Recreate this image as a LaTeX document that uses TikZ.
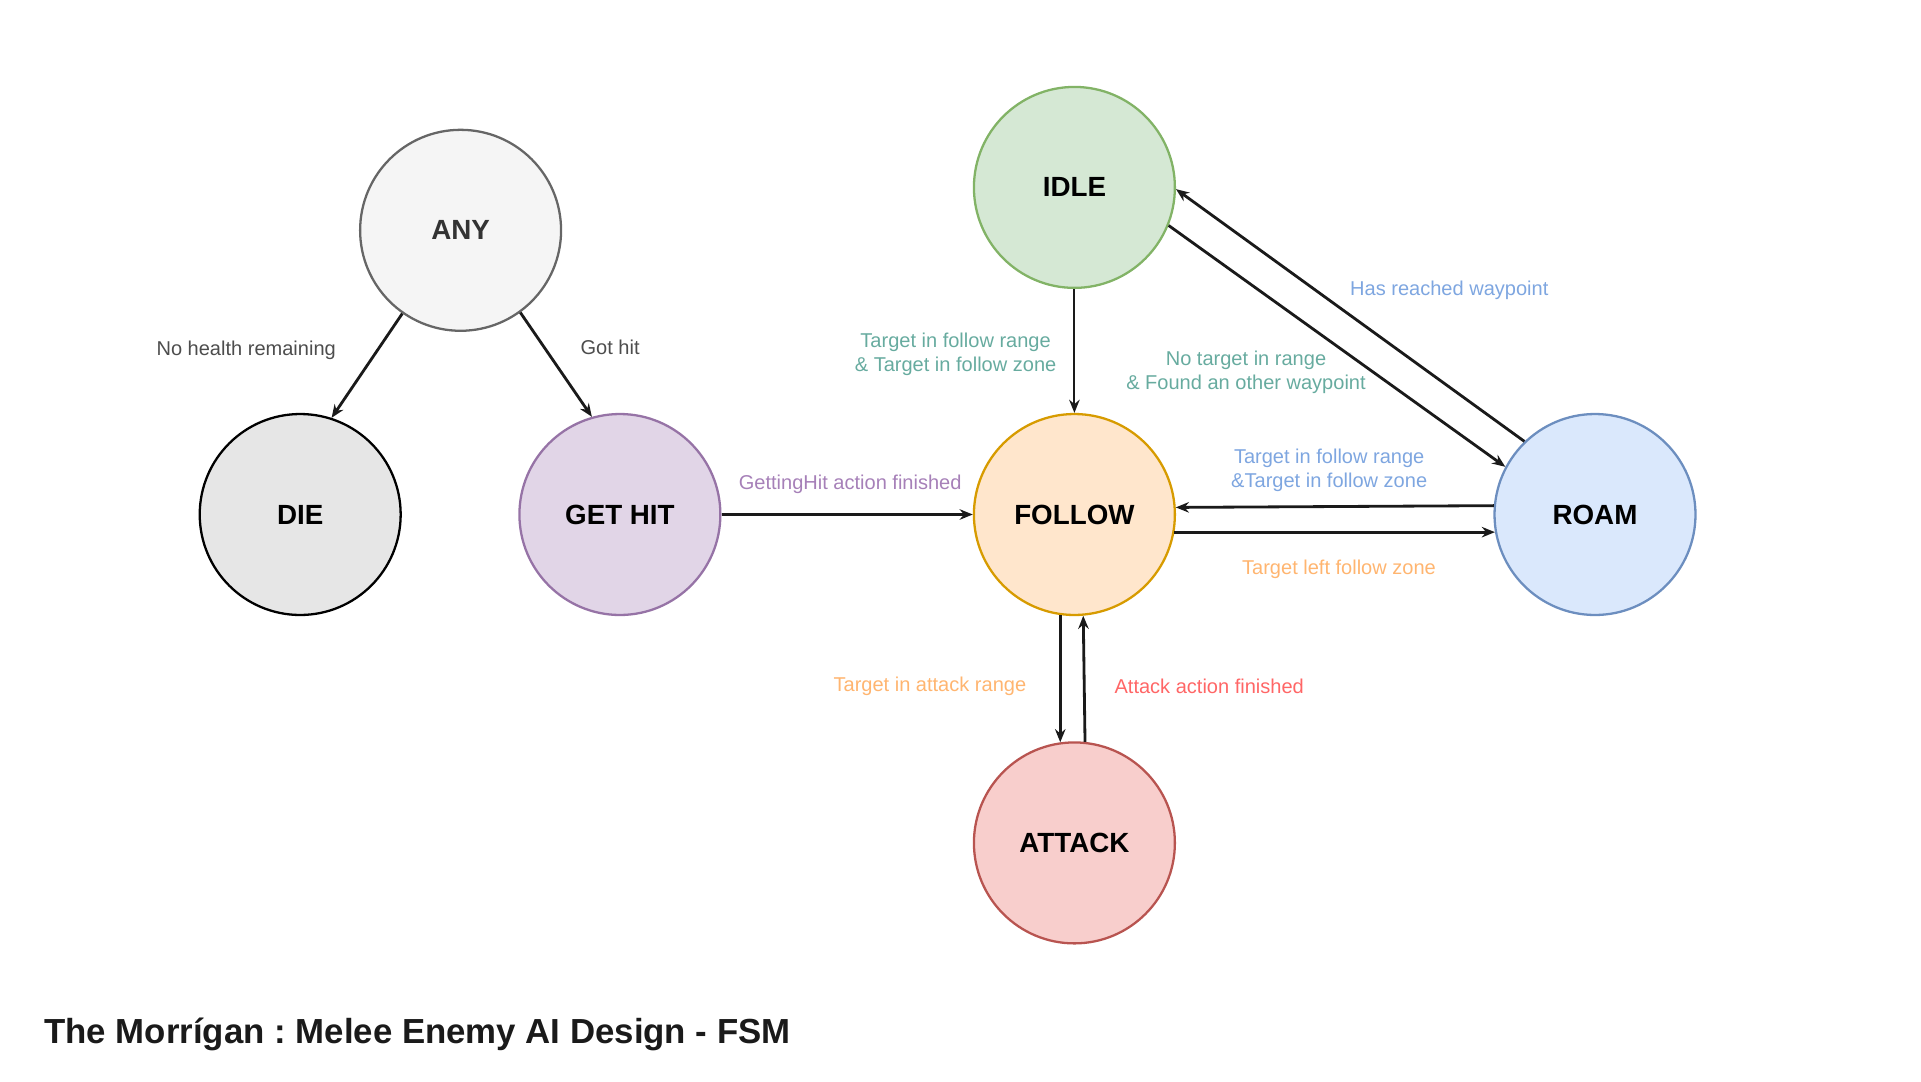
\documentclass[tikz,border=0pt]{standalone}
\usepackage{fontspec}
\setmainfont{Liberation Sans}
\usetikzlibrary{arrows.meta}
\definecolor{AnyFill}{HTML}{F5F5F5}
\definecolor{AnyLine}{HTML}{666666}
\definecolor{AnyText}{HTML}{333333}
\definecolor{DieFill}{HTML}{E6E6E6}
\definecolor{HitFill}{HTML}{E1D5E7}
\definecolor{HitLine}{HTML}{9673A6}
\definecolor{IdleFill}{HTML}{D5E8D4}
\definecolor{IdleLine}{HTML}{82B366}
\definecolor{FollowFill}{HTML}{FFE6CC}
\definecolor{FollowLine}{HTML}{D79B00}
\definecolor{RoamFill}{HTML}{DAE8FC}
\definecolor{RoamLine}{HTML}{6C8EBF}
\definecolor{AttackFill}{HTML}{F8CECC}
\definecolor{AttackLine}{HTML}{B85450}
\definecolor{EdgeBlack}{HTML}{1A1A1A}
\definecolor{GreyText}{HTML}{4D4D4D}
\definecolor{PurpleText}{HTML}{A680B8}
\definecolor{GreenText}{HTML}{67AB9F}
\definecolor{BlueText}{HTML}{7EA6E0}
\definecolor{OrangeText}{HTML}{FFB570}
\definecolor{RedText}{HTML}{FF6666}

\begin{document}
\begin{tikzpicture}[x=0.02cm, y=-0.02cm,
  state/.style={circle, minimum size=4.02cm, inner sep=0pt, line width=1.3pt,
    font=\fontsize{15.8}{18}\selectfont\bfseries},
  trans/.style={draw=EdgeBlack, line width=1.6pt,
    -{Stealth[length=7.5pt, width=6pt, inset=2.5pt]}},
  lbl/.style={font=\fontsize{11.4}{13.9}\selectfont, align=center}]

  % --- Page (pixel units, y down) ---
  \useasboundingbox (0,0) rectangle (1921,1082);

  % --- States ---
  \node[state, draw=AnyLine, fill=AnyFill, text=AnyText] (any) at (460.6,230.3) {ANY};
  \node[state, draw=black, fill=DieFill] (die) at (300.2,514.5) {DIE};
  \node[state, draw=HitLine, fill=HitFill] (gethit) at (619.9,514.5) {GET HIT};
  \node[state, draw=IdleLine, fill=IdleFill] (idle) at (1074.4,187.4) {IDLE};
  \node[state, draw=FollowLine, fill=FollowFill] (follow) at (1074.4,514.5) {FOLLOW};
  \node[state, draw=RoamLine, fill=RoamFill] (roam) at (1595,514.5) {ROAM};
  \node[state, draw=AttackLine, fill=AttackFill] (attack) at (1074.4,842.9) {ATTACK};

  % --- Transitions ---
  \draw[trans] (any.235) -- (die.72);
  \draw[trans] (any.306) -- (gethit.106);
  \draw[trans] (gethit) -- (follow);
  \draw[trans, line width=1.1pt] (idle) -- (follow);
  \draw[trans] (idle.338) -- (roam.152);
  \draw[trans] (roam.134.5) -- (idle.-1.4);
  %   ROAM -> FOLLOW about 8px above the centre line, FOLLOW -> ROAM about 17px below
  \draw[trans] (roam.175.15) -- (follow.4.85);
  \draw[trans] (follow.-10) -- (roam.190);
  %   FOLLOW -> ATTACK left of the axis, ATTACK -> FOLLOW right of it
  \draw[trans] (follow.262) -- (attack.98);
  \draw[trans] (attack.84.3) -- (follow.275.7);

  % --- Transition labels ---
  \node[lbl, text=GreyText] (lnohealth) at (246.2,350.4) {No health remaining};
  \node[lbl, text=GreyText] (lgothit) at (610.1,347) {Got hit};
  \node[lbl, text=PurpleText] (lhitdone) at (850.2,484) {GettingHit action finished};
  \node[lbl, text=GreenText] (lidlefollow) at (955.6,354.1)
      {Target in follow range\\\& Target in follow zone};
  \node[lbl, text=GreenText] (lidleroam) at (1246,372.5)
      {No target in range\\\& Found an other waypoint};
  \node[lbl, text=BlueText] (lwaypoint) at (1449.3,290.4) {Has reached waypoint};
  \node[lbl, text=BlueText] (lroamfollow) at (1329.2,470.5)
      {Target in follow range\\\&Target in follow zone};
  \node[lbl, text=OrangeText] (lleft) at (1339,569.7) {Target left follow zone};
  \node[lbl, text=OrangeText] (linrange) at (929.9,686.3) {Target in attack range};
  \node[lbl, text=RedText] (lattackdone) at (1209.2,686.3) {Attack action finished};

  % --- Title ---
  \node[anchor=west, inner sep=0pt, text=EdgeBlack,
      font=\fontsize{19.8}{24}\selectfont\bfseries\frenchspacing]
      (title) at (44.1,1034) {The Morrígan : Melee Enemy AI Design - FSM};

\end{tikzpicture}
\end{document}
